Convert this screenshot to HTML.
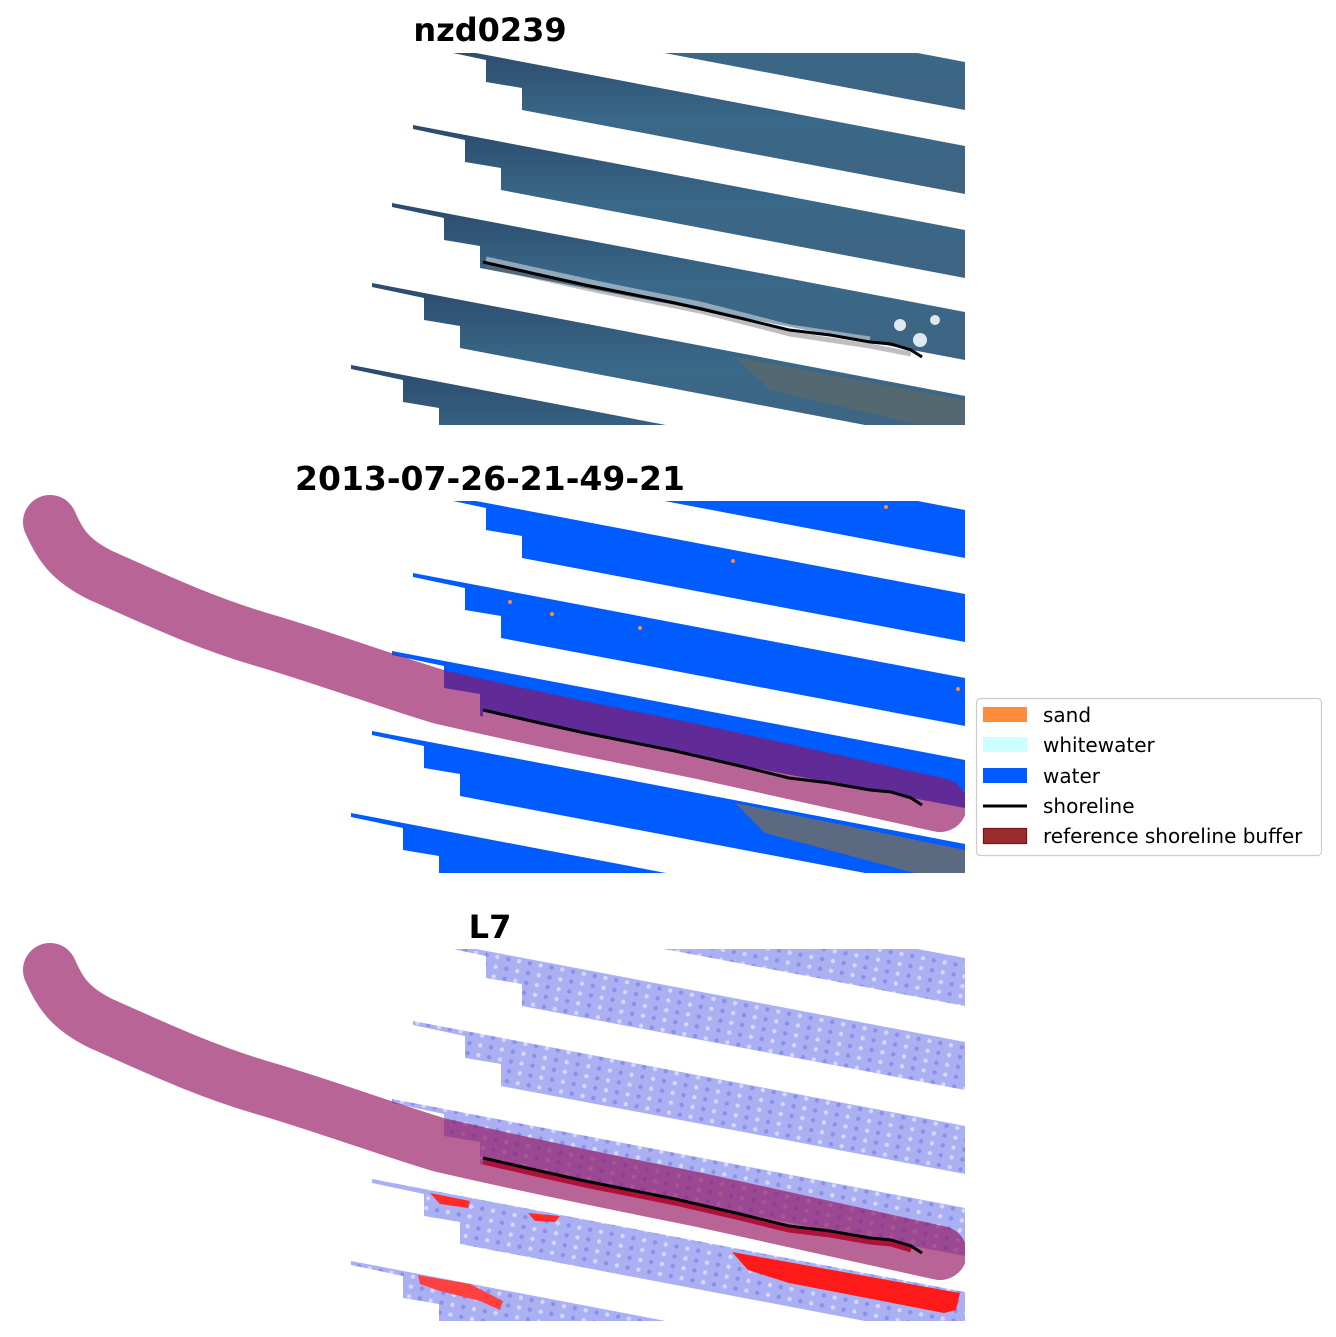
<!DOCTYPE html>
<html><head><meta charset="utf-8"><style>html,body{margin:0;padding:0;background:#fff;overflow:hidden;width:1336px;height:1337px}svg{display:block}</style></head>
<body>
<svg width="1336" height="1337" viewBox="0 0 1336 1337" xmlns="http://www.w3.org/2000/svg" font-family="DejaVu Sans, Liberation Sans, sans-serif">
<defs>
<clipPath id="cp"><rect x="350" y="53" width="615" height="372"/></clipPath>
<clipPath id="cpb"><rect x="0" y="40" width="965" height="385"/></clipPath>
<g id="stripes">
<polygon points="455,-35 965,62 965,110 543,30 543,8 507,2 507,-20 455,-31"/>
<polygon points="434,45 965,146 965,194 522,110 522,88 486,82 486,60 434,49"/>
<polygon points="413,125 965,230 965,278 501,190 501,168 465,162 465,140 413,129"/>
<polygon points="392,203 965,312 965,360 480,268 480,246 444,240 444,218 392,207"/>
<polygon points="372,283 965,396 965,444 460,348 460,326 424,320 424,298 372,287"/>
<polygon points="351,365 965,482 965,530 439,430 439,408 403,402 403,380 351,369"/>
</g>
<linearGradient id="g1" x1="0" y1="0" x2="0" y2="1">
<stop offset="0" stop-color="#2c4a6c"/><stop offset="0.5" stop-color="#3a6888"/><stop offset="1" stop-color="#3f6482"/>
</linearGradient>
<pattern id="tex" width="22" height="10" patternUnits="userSpaceOnUse" patternTransform="rotate(11)">
<rect width="22" height="10" fill="#aab0f2"/>
<circle cx="5" cy="5" r="2.2" fill="#8a90ea"/><circle cx="16" cy="5" r="2.2" fill="#d4d8fa"/>
</pattern>
<path id="buf" d="M50,74 C60,97 70,112 100,127 C160,154 210,177 270,194 C330,212 390,234 440,249 C540,272 620,288 700,304 C780,322 860,339 940,357"/>
<polygon id="below" points="483,262 540,275 585,285 675,303 740,318 789,330 830,335 870,342 891,344 911,350 922,357 965,365 965,380 483,290"/>
<polyline id="shore" points="483,262 540,275 585,285 675,303 740,318 789,330 830,335 870,342 891,344 911,350 922,357"/>
</defs>

<text x="490" y="41" font-size="32" font-weight="bold" text-anchor="middle">nzd0239</text>
<text x="490" y="490" font-size="33" font-weight="bold" text-anchor="middle">2013-07-26-21-49-21</text>
<text x="490" y="938" font-size="32" font-weight="bold" text-anchor="middle">L7</text>

<!-- Panel 1 -->
<g clip-path="url(#cp)">
<use href="#stripes" fill="url(#g1)"/>
<polygon points="735,357 965,400 965,425 920,425 770,390" fill="#5e6a6a" opacity="0.7"/>
<path d="M486,266 L600,291 700,311 790,334 870,346 911,354" stroke="#6e6f78" stroke-width="5" fill="none" opacity="0.45"/>
<path d="M486,259 L600,284 700,304 790,327 870,339" stroke="#e8eef2" stroke-width="5" fill="none" opacity="0.5"/>
<circle cx="900" cy="325" r="6" fill="#dfe8ee"/><circle cx="920" cy="340" r="7" fill="#dfe8ee"/><circle cx="935" cy="320" r="5" fill="#dfe8ee"/>
</g>
<use href="#shore" fill="none" stroke="#000" stroke-width="3"/>

<!-- Panel 2 -->
<g transform="translate(0,448)">
<g clip-path="url(#cp)">
<use href="#stripes" fill="#005cff"/>
<polygon points="735,355 965,402 965,425 915,425 765,385" fill="#5b6a80"/>
<use href="#below" fill="#fff"/>
</g>
<circle cx="886" cy="59" r="2" fill="#ff8c3c"/><circle cx="733" cy="113" r="2" fill="#ff8c3c"/><circle cx="510" cy="154" r="2" fill="#ff8c3c"/><circle cx="552" cy="166" r="2" fill="#ff8c3c"/><circle cx="640" cy="180" r="2" fill="#ff8c3c"/><circle cx="958" cy="241" r="2" fill="#ff8c3c"/>
<g clip-path="url(#cpb)"><use href="#buf" fill="none" stroke="#94115e" stroke-opacity="0.65" stroke-width="54" stroke-linecap="round" stroke-linejoin="round"/></g>
<use href="#shore" fill="none" stroke="#000" stroke-width="3"/>
</g>

<!-- Panel 3 -->
<g transform="translate(0,896)">
<g clip-path="url(#cp)">
<use href="#stripes" fill="url(#tex)"/>
<use href="#below" fill="#fff"/>
</g>
<path d="M732,356 L871,381 960,397 956,414 944,417 789,387 748,374 Z" fill="#ff1a1a"/>
<path d="M430,297 L470,305 468,312 440,308 Z" fill="#ff2a2a"/>
<path d="M528,317 L560,320 555,326 535,325 Z" fill="#ff2a2a"/>
<path d="M418,379 L470,388 503,405 500,414 480,405 440,395 420,388 Z" fill="#ff4040"/>
<g clip-path="url(#cpb)"><use href="#buf" fill="none" stroke="#94115e" stroke-opacity="0.65" stroke-width="54" stroke-linecap="round" stroke-linejoin="round"/></g>
<polyline points="483,266 540,279 585,289 675,307 740,322 789,334 830,339 870,346 891,348 911,354" fill="none" stroke="#b0103a" stroke-width="5"/>
<use href="#shore" fill="none" stroke="#000" stroke-width="3"/>
</g>

<!-- Legend -->
<rect x="976.5" y="698.5" width="345" height="157" rx="4" fill="#fff" stroke="#ccc" stroke-width="1.2"/>
<rect x="983" y="707" width="44" height="15" fill="#ff8c3c"/>
<rect x="983" y="737" width="44" height="15" fill="#ccffff"/>
<rect x="983" y="768" width="44" height="15" fill="#005aff"/>
<line x1="983" y1="806" x2="1027" y2="806" stroke="#000" stroke-width="3"/>
<rect x="983.5" y="828.5" width="43" height="15" fill="#9b2d30" stroke="#7a1015" stroke-width="1.2"/>
<g font-size="20" fill="#000">
<text x="1043" y="722">sand</text>
<text x="1043" y="752">whitewater</text>
<text x="1043" y="783">water</text>
<text x="1043" y="813">shoreline</text>
<text x="1043" y="843">reference shoreline buffer</text>
</g>
</svg>
</body></html>
